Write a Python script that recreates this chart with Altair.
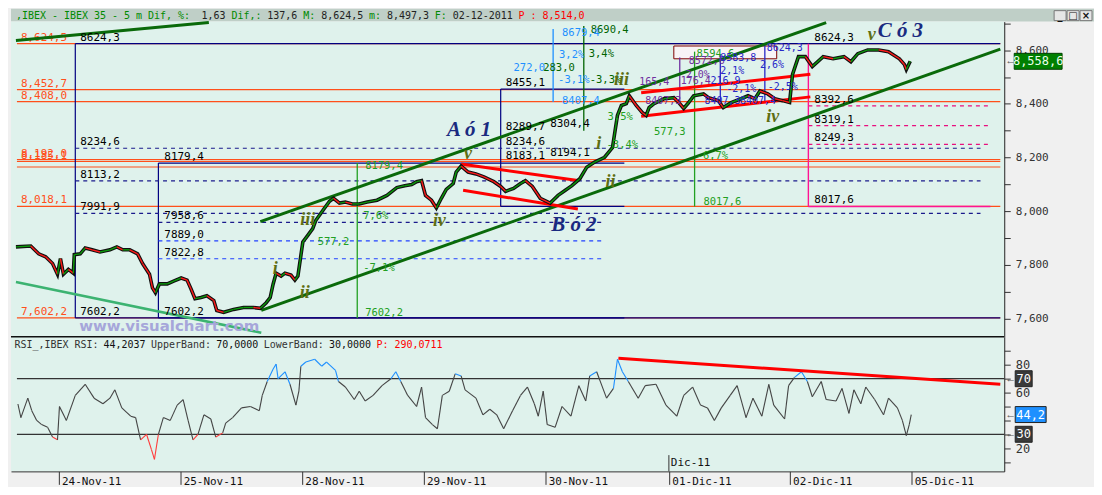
import altair as alt
import pandas as pd

# ---------------- data ----------------
# 5-minute IBEX 35 closes (t = position on the time axis, 1 day ~ 123 units)
price_t = [5, 20, 28, 35, 42, 47, 50, 53, 58, 63,
           64, 70, 75, 82, 90, 100, 107, 113, 120, 128,
           133, 140, 143, 146, 150, 158, 165, 172, 178, 182,
           186, 192, 198, 205, 208, 215, 225, 235, 245, 252,
           258, 262, 265, 268, 273, 277, 283, 287, 290, 295,
           300, 305, 308, 312, 317, 322, 326, 332, 338, 345,
           352, 360, 370, 380, 390, 398, 405, 410, 415, 419,
           425, 430, 435, 440, 447, 450, 455, 462, 470, 478,
           488, 495, 500, 508, 515, 520, 527, 535, 545, 553,
           560, 567, 575, 582, 590, 600, 608, 613, 617, 622,
           625, 632, 638, 642, 645, 650, 660, 670, 675, 680,
           685, 690, 700, 705, 715, 720, 728, 738, 745, 752,
           757, 765, 772, 780, 787, 790, 796, 803, 810, 821,
           831, 842, 849, 856, 866, 877, 887, 898, 903, 905,
           909]
price_v = [7867, 7870, 7841, 7830, 7805, 7765, 7823, 7765, 7783, 7769,
           7838, 7841, 7863, 7856, 7848, 7856, 7867, 7856, 7856, 7841,
           7805, 7765, 7714, 7696, 7729, 7729, 7740, 7751, 7743, 7710,
           7674, 7678, 7685, 7667, 7630, 7623, 7634, 7641, 7641, 7638,
           7659, 7678, 7729, 7769, 7758, 7769, 7762, 7743, 7758, 7885,
           7910, 7935, 7965, 7986, 8012, 8037, 8048, 8030, 8034, 8027,
           8027, 8034, 8041, 8059, 8088, 8095, 8099, 8110, 8114, 8059,
           8041, 8012, 8048, 8081, 8103, 8146, 8168, 8146, 8139, 8128,
           8110, 8092, 8074, 8085, 8103, 8114, 8092, 8048, 8030, 8059,
           8077, 8095, 8121, 8164, 8183, 8201, 8237, 8357, 8394, 8401,
           8430, 8394, 8368, 8357, 8386, 8401, 8419, 8423, 8405, 8383,
           8405, 8430, 8437, 8423, 8412, 8386, 8405, 8419, 8430, 8419,
           8448, 8437, 8419, 8412, 8405, 8510, 8576, 8576, 8539, 8576,
           8568, 8576, 8557, 8587, 8601, 8601, 8594, 8568, 8547, 8528,
           8558.6]

rsi_t = [7, 10, 17, 21, 26, 31, 37, 42, 47, 49,
         56, 65, 75, 84, 93, 100, 105, 112, 121, 126,
         131, 137, 142, 145, 149, 154, 161, 168, 174, 179,
         184, 189, 195, 202, 207, 214, 217, 224, 233, 242,
         251, 254, 259, 265, 268, 270, 277, 282, 288, 291,
         293, 298, 307, 314, 319, 328, 331, 338, 347, 352,
         358, 366, 375, 384, 389, 394, 401, 410, 415, 419,
         426, 431, 436, 443, 449, 455, 459, 470, 477, 484,
         491, 498, 507, 515, 522, 529, 533, 538, 542, 550,
         557, 566, 574, 581, 585, 592, 602, 609, 613, 618,
         624, 634, 641, 652, 662, 673, 680, 689, 697, 704,
         711, 718, 727, 734, 743, 750, 759, 766, 771, 782,
         786, 792, 799, 805, 810, 819, 824, 834, 840, 847,
         852, 859, 864, 873, 882, 887, 896, 901, 905, 908,
         910]
rsi_v = [51.8, 42, 56, 47, 40, 37, 35, 28, 26, 50,
         40, 58, 66, 56, 52, 56, 62, 49, 43, 42,
         26, 30, 19, 12, 30, 42, 40, 51, 55, 40,
         26, 30, 44, 41, 28, 31, 38, 42, 49, 50,
         47, 58, 68, 77, 80.5, 70, 75, 66, 51, 61,
         79, 82, 84, 79, 82, 76, 68, 64, 55, 61,
         54, 58, 65, 70, 75, 68, 58, 50, 64, 42,
         37, 34, 58, 61, 73.5, 72, 62, 56, 44, 48,
         44, 34, 47, 58, 64, 52, 43, 61, 37, 35,
         50, 43, 65, 54, 72, 75, 56, 63, 84, 75,
         68, 56, 65, 66, 51, 43, 58, 64, 51, 49,
         40, 49, 58, 65, 42, 56, 43, 66, 51, 41,
         65, 71, 75, 68, 57, 68, 55, 54, 63, 45,
         62, 52, 64, 55, 44, 56, 49, 40, 29, 37,
         44.2]
rsi_bands = [70, 30]
rsi_trend_t = [614, 1000]
rsi_trend_v = [84.7, 66.0]

day_t = [48, 171, 294, 417, 540, 665, 787, 910]
day_labels = ["24-Nov-11", "25-Nov-11", "28-Nov-11", "29-Nov-11",
              "30-Nov-11", "01-Dic-11", "02-Dic-11", "05-Dic-11"]

orange_levels = [8624.5, 8452.7, 8408.0, 8192.0, 8185.1, 8164.7, 8018.1, 7602.2]
orange_labels = ["8,624,5", "8,452,7", "8,408,0", "8,192,0", "8,185,1", "", "8,018,1", "7,602,2"]

navy_left = [65, 149, 495]
navy_right = [1000, 620, 620]
navy_top = [8624.3, 8179.4, 8455.1]
navy_bottom = [7602.2, 7602.2, 8017.6]

dash_dark_levels = [8234.6, 8113.2, 7991.9]
dash_dark_short = [7958.6]
dash_blue_levels = [7889.0, 7822.8]
pink_levels = [8392.6, 8319.1, 8249.3]
pink_base = 8017.6
pink_top = 8624.3
pink_t = [806, 990]

level_label_t = [70, 70, 70, 70, 70, 155, 155, 155, 155, 155,
                 500, 812, 812, 812, 812, 812, 500, 545, 500, 500, 545]
level_label_v = [8624.3, 8234.6, 8113.2, 7991.9, 7602.2, 8179.4, 7958.6, 7889.0, 7822.8, 7602.2,
                 8455.1, 8624.3, 8392.6, 8319.1, 8249.3, 8017.6, 8289.7, 8304.4, 8234.6, 8183.1, 8194.1]

green_channel_t = [252, 253, 5]
green_channel_t2 = [824, 1000, 200]
green_channel_p = [7961, 7630, 8636]
green_channel_p2 = [8703, 8604, 8703]
sea_line = [5, 7736, 253, 7547]
red_t = [637, 637, 455, 457]
red_t2 = [808, 808, 573, 573]
red_p = [8441, 8354, 8176, 8078]
red_p2 = [8510, 8426, 8114, 8008]

meas_green = ([350, 691], [7602.2, 8017.6], [8179.4, 8594.6])
meas_dkgreen = ([579], [8300], [8690.4])
meas_lblue = ([548], [8407], [8679.4])
meas_purple = ([676], [8407], [8572.6])
meas_blue = ([717, 762], [8407, 8407], [8583.8, 8624.3])

green_notes = ([358, 356, 310, 356, 358, 650, 693, 700, 693, 603, 602],
               [8168, 7983, 7885, 7790, 7619, 8296, 8205, 8034, 8587, 8350, 8248],
               ["8179,4", "7,6%", "577,2", "-7,1%", "7602,2", "577,3", "-6,7%", "8017,6", "8594,6", "3,5%", "-3,4%"])
dkgreen_notes = ([586, 584, 538, 585], [8677, 8587, 8532, 8488], ["8690,4", "3,4%", "283,0", "-3,3%"])
lblue_notes = ([557, 554, 508, 553, 557], [8665, 8583, 8532, 8488, 8412],
               ["8679,4", "3,2%", "272,0", "-3,1%", "8407,4"])
purple_notes = ([635, 677, 682, 685, 641], [8481, 8485, 8507, 8561, 8412],
                ["165,4", "176,4", "2,0%", "8572,6", "8407,3"])
blue_notes = ([717, 707, 717, 764, 757, 723, 765, 701, 737],
              [8521, 8485, 8572, 8609, 8543, 8456, 8463, 8412, 8412],
              ["2,1%", "216,9", "8583,8", "8624,3", "2,6%", "-2,1%", "-2,5%", "8407,3", "8407,4"])
wave_big = ([463, 569, 899], [8303, 7950, 8670], ["A ó 1", "B ó 2", "C ó 3"])
wave_small = ([870, 462, 433, 300, 267, 297, 617, 770, 594, 606],
              [8656, 8212, 7965, 7968, 7783, 7695, 8488, 8350, 8250, 8110],
              ["v", "v", "iv", "iii", "i", "ii", "iii", "iv", "i", "ii"])
target_box = ([670], [774], [8615.6], [8568])
last_price = 8558.6
last_rsi = 44.2

title_segments = [(",IBEX - IBEX 35 -  5 m Dif, %: ", "#008a00"), ("1,63 ", "#222222"),
                  ("Dif,: ", "#008a00"), ("137,6 ", "#222222"), ("M: ", "#008a00"),
                  ("8,624,5 ", "#222222"), ("m: ", "#008a00"), ("8,497,3 ", "#222222"),
                  ("F: ", "#008a00"), ("02-12-2011 ", "#222222"), ("P : 8,514,0", "#ff0000")]
rsi_title_segments = [("RSI_,IBEX RSI: ", "#333333"), ("44,2037 ", "#111111"),
                      ("UpperBand: ", "#333333"), ("70,0000 ", "#111111"),
                      ("LowerBand: ", "#333333"), ("30,0000 ", "#111111"),
                      ("P: 290,0711", "#ff0000")]

# ---------------- layout constants ----------------
W = 996
FULL_W = 1086
H_TOP = 13
H_PRICE = 316
H_RSI = 135
T_DOMAIN = [0, 1004]
P_DOMAIN = [7532, 8706.5]
R_DOMAIN = [3.3, 100.2]
MONO = "DejaVu Sans Mono"
SERIF = "Liberation Serif"
BG = "#dff2ec"

axis_p = alt.Axis(orient="right", values=list(range(7600, 8800, 100)),
                  labelExpr="datum.value % 200 == 0 ? format(datum.value, ',.0f') : ''",
                  labelFont=MONO, labelFontSize=11, labelColor="#333333",
                  tickColor="#333333", domainColor="#222222", tickSize=6,
                  labelPadding=5, grid=False, title=None)
axis_r = alt.Axis(orient="right", values=list(range(10, 100, 10)),
                  labelExpr="(datum.value % 20 == 0 && datum.value != 40) ? datum.value : ''",
                  labelFont=MONO, labelFontSize=12, labelColor="#333333",
                  tickColor="#333333", domainColor="#222222", tickSize=6,
                  labelPadding=5, grid=False, title=None)
date_expr = " : ".join(f"datum.value == {t} ? '{l}'" for t, l in zip(day_t, day_labels)) + " : ''"
axis_d = alt.Axis(values=day_t, labelExpr=date_expr, tickSize=13, labelAlign="left",
                  labelBaseline="top", labelPadding=-9, labelOffset=3, labelFont=MONO,
                  labelFontSize=11, labelColor="#111111", domainColor="#333333",
                  tickColor="#333333", grid=False, title=None, labelFlush=False,
                  labelOverlap=False)


def X(axis=None):
    return alt.X("t:Q", scale=alt.Scale(domain=T_DOMAIN, nice=False, zero=False), axis=axis)


def Yp():
    return alt.Y("p:Q", scale=alt.Scale(domain=P_DOMAIN, nice=False, zero=False), axis=axis_p)


def Yr():
    return alt.Y("p:Q", scale=alt.Scale(domain=R_DOMAIN, nice=False, zero=False), axis=axis_r)


def segs(t, p, t2, p2, color, width, dash=None, panel="p"):
    df = pd.DataFrame({"t": t, "p": p, "t2": t2, "p2": p2})
    kw = dict(color=color, strokeWidth=width)
    if dash:
        kw["strokeDash"] = dash
    y = Yp() if panel == "p" else Yr()
    x = X() if panel == "p" else X(axis_d)
    return alt.Chart(df).mark_rule(**kw).encode(x=x, y=y, x2="t2:Q", y2="p2:Q")


def texts(t, v, txt, color, size=10, font=MONO, align="left", baseline="middle",
          dy=0, style=None, weight=None, panel="p"):
    df = pd.DataFrame({"t": t, "p": v, "txt": txt})
    kw = dict(color=color, fontSize=size, font=font, align=align, baseline=baseline)
    if dy:
        kw["dy"] = dy
    if style:
        kw["fontStyle"] = style
    if weight:
        kw["fontWeight"] = weight
    y = Yp() if panel == "p" else Yr()
    x = X() if panel == "p" else X(axis_d)
    return alt.Chart(df).mark_text(**kw).encode(x=x, y=y, text="txt:N")


def header_texts(segments, x0, y, dom):
    rows = []
    pos = 0
    for s, c in segments:
        rows.append({"hx": x0 + pos * 6.0, "txt": s.strip(), "c": c})
        pos += len(s)
    df = pd.DataFrame(rows)
    return alt.Chart(df).mark_text(font=MONO, fontSize=10, align="left", baseline="middle").encode(
        x=alt.X("hx:Q", scale=alt.Scale(domain=dom, range=[0, dom[1]], nice=False, zero=False), axis=None),
        y=alt.value(y), text="txt:N", color=alt.Color("c:N", scale=None))


def window_buttons(y0, dom):
    df = pd.DataFrame({"bx": [FULL_W - 40 + i * 13 for i in range(3)], "g": ["_", "□", "×"]})
    sc = alt.Scale(domain=dom, range=[0, dom[1]], nice=False, zero=False)
    rect = alt.Chart(df).mark_rect(fill="#e6e6e6", stroke="#777777", strokeWidth=1,
                                   x2Offset=12, y=y0, y2=y0 + 10).encode(
        x=alt.X("bx:Q", scale=sc, axis=None), x2="bx:Q")
    glyph = alt.Chart(df).mark_text(font="DejaVu Sans", fontSize=10, fontWeight="bold",
                                    color="#111111", dx=6, align="center", baseline="middle",
                                    y=y0 + 5).encode(
        x=alt.X("bx:Q", scale=sc, axis=None), text="g:N")
    return [rect, glyph]


# ---------------- title bar ----------------
TB_DOM = [0, FULL_W]
top = alt.layer(header_texts(title_segments, 5, 7, TB_DOM), *window_buttons(2, TB_DOM)).properties(
    width=FULL_W, height=H_TOP, view=alt.ViewBackground(fill="#bfcfc7", stroke=None))

# ---------------- price panel ----------------
P = []
n_or = len(orange_levels)
P.append(segs([6] * n_or, orange_levels, [1000] * n_or, orange_levels, "#ff4f1a", 1.2))
P.append(texts([10] * n_or, orange_levels, orange_labels, "#ff4f1a", size=11, baseline="bottom", dy=-1))

P.append(segs(navy_left, navy_top, navy_right, navy_top, "#000080", 1.2))
P.append(segs(navy_left, navy_bottom, navy_right, navy_bottom, "#000080", 1.2))
P.append(segs(navy_left, navy_bottom, navy_left, navy_top, "#000080", 1.2))

P.append(segs([65] * 3, dash_dark_levels, [980] * 3, dash_dark_levels, "#1a1a8c", 1.2, [4, 4]))
P.append(segs([149], dash_dark_short, [600], dash_dark_short, "#1a1a8c", 1.2, [4, 4]))
P.append(segs([149] * 2, dash_blue_levels, [600] * 2, dash_blue_levels, "#2040ff", 1.2, [4, 4]))
P.append(segs([pink_t[0]] * 3, pink_levels, [pink_t[1]] * 3, pink_levels, "#e8107e", 1.2, [4, 4]))
P.append(segs([pink_t[0], pink_t[0]], [pink_base, pink_base], [pink_t[0], pink_t[1]],
              [pink_top, pink_base], "#ff1493", 1.4))

box_df = pd.DataFrame({"t": target_box[0], "t2": target_box[1], "p": target_box[2], "p2": target_box[3]})
P.append(alt.Chart(box_df).mark_rect(fill="#f8f4f6", stroke="#800000", strokeWidth=1).encode(
    x=X(), x2="t2:Q", y=Yp(), y2="p2:Q"))

for (mt, mp, mp2), col in [(meas_green, "#22a022"), (meas_dkgreen, "#006400"),
                           (meas_lblue, "#1e90ff"), (meas_purple, "#7030a0"),
                           (meas_blue, "#2828c8")]:
    P.append(segs(mt, mp, mt, mp2, col, 1.3))

P.append(segs(green_channel_t, green_channel_p, green_channel_t2, green_channel_p2, "#0a6a0a", 3))
P.append(segs([sea_line[0]], [sea_line[1]], [sea_line[2]], [sea_line[3]], "#3cb371", 2.5))
P.append(segs(red_t, red_p, red_t2, red_p2, "#ff0000", 3))

P.append(texts([160], [7572], ["www.visualchart.com"], "#a6a6da", size=15,
               font="DejaVu Sans", align="center", weight="bold"))

price_df = pd.DataFrame({"t": price_t, "p": price_v})
P.append(alt.Chart(price_df).mark_line(color="#101010", strokeWidth=3.6).encode(x=X(), y=Yp()))
pseg = pd.DataFrame({"t": price_t[:-1], "p": price_v[:-1], "t2": price_t[1:], "p2": price_v[1:]})
pseg["c"] = ["#ff1a1a" if b < a else "#0b9a0b" for a, b in zip(price_v[:-1], price_v[1:])]
P.append(alt.Chart(pseg).mark_rule(strokeWidth=1.4).encode(
    x=X(), y=Yp(), x2="t2:Q", y2="p2:Q", color=alt.Color("c:N", scale=None)))

lab_txt = [f"{v:.1f}".replace(".", ",") for v in level_label_v]
P.append(texts(level_label_t, level_label_v, lab_txt, "#000000", size=11, baseline="bottom", dy=-1))

P.append(texts(*green_notes, "#22a022", size=10.5))
P.append(texts(*dkgreen_notes, "#006400", size=10.5))
P.append(texts(*lblue_notes, "#1e90ff", size=10.5))
P.append(texts(*purple_notes, "#7030a0", size=10))
P.append(texts(*blue_notes, "#2828c8", size=10))
P.append(texts(*wave_big, "#1a2a80", size=21, font=SERIF, align="center", style="italic", weight="bold"))
P.append(texts(*wave_small, "#5e6e12", size=18, font=SERIF, align="center", style="italic", weight="bold"))

lp = pd.DataFrame({"p": [last_price], "txt": ["8,558,6"], "arr": ["←"]})
P.append(alt.Chart(lp).mark_rect(fill="#008000", stroke="#004000", x=W + 10, x2=W + 58,
                                 yOffset=-8, y2Offset=8).encode(y=Yp(), y2="p:Q"))
P.append(alt.Chart(lp).mark_text(color="#eaffea", font=MONO, fontSize=12, align="center",
                                 baseline="middle", x=W + 34).encode(y=Yp(), text="txt:N"))
P.append(alt.Chart(lp).mark_text(color="#555555", fontSize=11, align="left",
                                 baseline="middle", x=W + 1).encode(y=Yp(), text="arr:N"))

price = alt.layer(*P).properties(width=W, height=H_PRICE,
                                 view=alt.ViewBackground(fill=BG, stroke=None))

# ---------------- RSI panel ----------------
R = []
R.append(segs([6, 6], rsi_bands, [1004, 1004], rsi_bands, "#333333", 1.2, panel="r"))
rseg = pd.DataFrame({"t": rsi_t[:-1], "p": rsi_v[:-1], "t2": rsi_t[1:], "p2": rsi_v[1:]})
avg = [(a + b) / 2 for a, b in zip(rsi_v[:-1], rsi_v[1:])]
rseg["c"] = ["#1e8fff" if m > 70 else ("#ff3b3b" if m < 30 else "#444444") for m in avg]
R.append(alt.Chart(rseg).mark_rule(strokeWidth=1.1).encode(
    x=X(axis_d), y=Yr(), x2="t2:Q", y2="p2:Q", color=alt.Color("c:N", scale=None)))
R.append(segs([rsi_trend_t[0]], [rsi_trend_v[0]], [rsi_trend_t[1]], [rsi_trend_v[1]],
              "#ff0000", 3, panel="r"))
R.append(segs([day_t[5]], [15], [day_t[5]], [R_DOMAIN[0]], "#333333", 1, panel="r"))
R.append(texts([day_t[5] + 2], [9.6], ["Dic-11"], "#111111", size=11, panel="r"))
R.append(segs([T_DOMAIN[0]], [R_DOMAIN[1]], [T_DOMAIN[1]], [R_DOMAIN[1]], "#111111", 1.5, panel="r"))

rows = []
pos = 0
for s, c in rsi_title_segments:
    rows.append({"t": 3.5 + pos * 6.0, "txt": s.strip(), "c": c})
    pos += len(s)
R.append(alt.Chart(pd.DataFrame(rows)).mark_text(font=MONO, fontSize=10, align="left",
                                                 baseline="middle", y=8).encode(
    x=X(axis_d), text="txt:N", color=alt.Color("c:N", scale=None)))

for val, txt, fill, x2 in [(70, "70", "#3a3a3a", W + 28), (30, "30", "#3a3a3a", W + 28),
                           (last_rsi, "44,2", "#1e90ff", W + 42)]:
    bd = pd.DataFrame({"p": [val], "txt": [txt], "arr": ["←"]})
    R.append(alt.Chart(bd).mark_rect(fill=fill, stroke="#222222", x=W + 11, x2=x2,
                                     yOffset=-8, y2Offset=8).encode(y=Yr(), y2="p:Q"))
    R.append(alt.Chart(bd).mark_text(color="#ffffff", font=MONO, fontSize=12, align="center",
                                     baseline="middle", x=(W + 11 + x2) / 2).encode(y=Yr(), text="txt:N"))
    R.append(alt.Chart(bd).mark_text(color="#555555", fontSize=11, align="left",
                                     baseline="middle", x=W + 1).encode(y=Yr(), text="arr:N"))

rsi = alt.layer(*R).properties(width=W, height=H_RSI,
                               view=alt.ViewBackground(fill=BG, stroke=None))

chart = alt.vconcat(top, price, rsi, spacing=0, bounds="flush").properties(
    background="#f0f0f0", padding=0)

chart.save("out.html", embed_options={"renderer": "svg", "actions": False})
